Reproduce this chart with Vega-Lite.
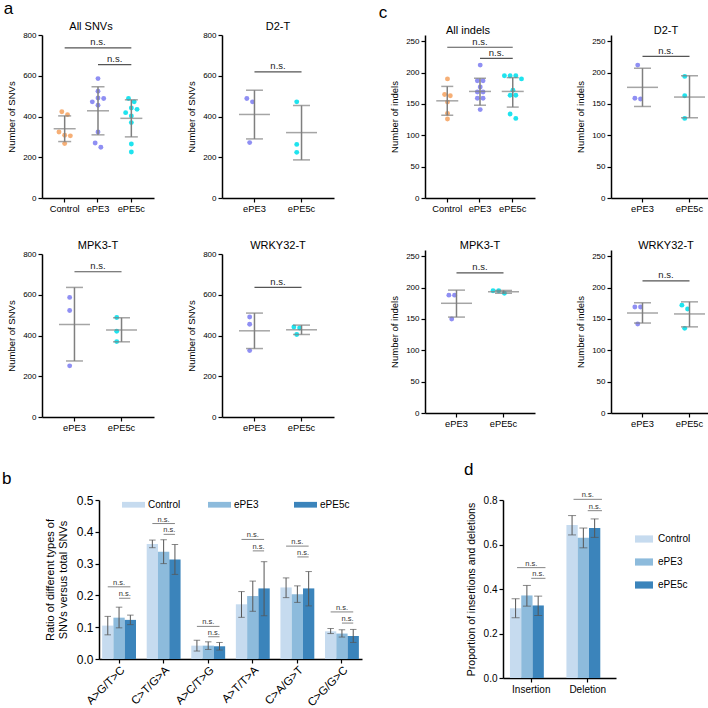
{
  "$schema": "https://vega.github.io/schema/vega-lite/v6.json",
  "background": "white",
  "padding": {"left": 2, "top": 0, "right": 0, "bottom": 0},
  "autosize": {"type": "pad"},
  "config": {
    "font": "Liberation Sans",
    "view": {"stroke": null},
    "title": {"fontSize": 11, "fontWeight": "normal", "color": "#000", "offset": -1},
    "axis": {"domainColor": "#000", "domainWidth": 1.5, "tickColor": "#000", "tickWidth": 1.2, "tickSize": 4, "labelColor": "#000", "titleColor": "#000", "titleFontWeight": "normal", "grid": false, "labelFontSize": 8, "titleFontSize": 9.5, "labelPadding": 2, "titlePadding": 6, "labelOverlap": false},
    "legend": {"labelColor": "#000", "labelFont": "Liberation Sans"}
  },
  "datasets": {
    "dots": [
      {"panel": "snv_all", "group": "Control", "value": 423}, {"panel": "snv_all", "group": "Control", "value": 409}, {"panel": "snv_all", "group": "Control", "value": 324}, {"panel": "snv_all", "group": "Control", "value": 308}, {"panel": "snv_all", "group": "Control", "value": 305}, {"panel": "snv_all", "group": "Control", "value": 267},
      {"panel": "snv_all", "group": "ePE3", "value": 586}, {"panel": "snv_all", "group": "ePE3", "value": 524}, {"panel": "snv_all", "group": "ePE3", "value": 491}, {"panel": "snv_all", "group": "ePE3", "value": 488}, {"panel": "snv_all", "group": "ePE3", "value": 472}, {"panel": "snv_all", "group": "ePE3", "value": 455}, {"panel": "snv_all", "group": "ePE3", "value": 324}, {"panel": "snv_all", "group": "ePE3", "value": 270}, {"panel": "snv_all", "group": "ePE3", "value": 249},
      {"panel": "snv_all", "group": "ePE5c", "value": 488}, {"panel": "snv_all", "group": "ePE5c", "value": 472}, {"panel": "snv_all", "group": "ePE5c", "value": 442}, {"panel": "snv_all", "group": "ePE5c", "value": 435}, {"panel": "snv_all", "group": "ePE5c", "value": 419}, {"panel": "snv_all", "group": "ePE5c", "value": 403}, {"panel": "snv_all", "group": "ePE5c", "value": 370}, {"panel": "snv_all", "group": "ePE5c", "value": 265}, {"panel": "snv_all", "group": "ePE5c", "value": 226},
      {"panel": "snv_d2", "group": "ePE3", "value": 488}, {"panel": "snv_d2", "group": "ePE3", "value": 472}, {"panel": "snv_d2", "group": "ePE3", "value": 272},
      {"panel": "snv_d2", "group": "ePE5c", "value": 472}, {"panel": "snv_d2", "group": "ePE5c", "value": 263}, {"panel": "snv_d2", "group": "ePE5c", "value": 224},
      {"panel": "snv_mpk3", "group": "ePE3", "value": 587}, {"panel": "snv_mpk3", "group": "ePE3", "value": 523}, {"panel": "snv_mpk3", "group": "ePE3", "value": 251},
      {"panel": "snv_mpk3", "group": "ePE5c", "value": 488}, {"panel": "snv_mpk3", "group": "ePE5c", "value": 421}, {"panel": "snv_mpk3", "group": "ePE5c", "value": 370},
      {"panel": "snv_wrky32", "group": "ePE3", "value": 491}, {"panel": "snv_wrky32", "group": "ePE3", "value": 455}, {"panel": "snv_wrky32", "group": "ePE3", "value": 326},
      {"panel": "snv_wrky32", "group": "ePE5c", "value": 442}, {"panel": "snv_wrky32", "group": "ePE5c", "value": 437}, {"panel": "snv_wrky32", "group": "ePE5c", "value": 405},
      {"panel": "ind_all", "group": "Control", "value": 190}, {"panel": "ind_all", "group": "Control", "value": 165}, {"panel": "ind_all", "group": "Control", "value": 163}, {"panel": "ind_all", "group": "Control", "value": 153}, {"panel": "ind_all", "group": "Control", "value": 135}, {"panel": "ind_all", "group": "Control", "value": 126},
      {"panel": "ind_all", "group": "ePE3", "value": 212}, {"panel": "ind_all", "group": "ePE3", "value": 187}, {"panel": "ind_all", "group": "ePE3", "value": 187}, {"panel": "ind_all", "group": "ePE3", "value": 177}, {"panel": "ind_all", "group": "ePE3", "value": 169}, {"panel": "ind_all", "group": "ePE3", "value": 169}, {"panel": "ind_all", "group": "ePE3", "value": 159}, {"panel": "ind_all", "group": "ePE3", "value": 159}, {"panel": "ind_all", "group": "ePE3", "value": 141},
      {"panel": "ind_all", "group": "ePE5c", "value": 195}, {"panel": "ind_all", "group": "ePE5c", "value": 195}, {"panel": "ind_all", "group": "ePE5c", "value": 195}, {"panel": "ind_all", "group": "ePE5c", "value": 190}, {"panel": "ind_all", "group": "ePE5c", "value": 172}, {"panel": "ind_all", "group": "ePE5c", "value": 164}, {"panel": "ind_all", "group": "ePE5c", "value": 164}, {"panel": "ind_all", "group": "ePE5c", "value": 134}, {"panel": "ind_all", "group": "ePE5c", "value": 127},
      {"panel": "ind_d2", "group": "ePE3", "value": 212}, {"panel": "ind_d2", "group": "ePE3", "value": 159}, {"panel": "ind_d2", "group": "ePE3", "value": 158},
      {"panel": "ind_d2", "group": "ePE5c", "value": 194}, {"panel": "ind_d2", "group": "ePE5c", "value": 163}, {"panel": "ind_d2", "group": "ePE5c", "value": 127},
      {"panel": "ind_mpk3", "group": "ePE3", "value": 188}, {"panel": "ind_mpk3", "group": "ePE3", "value": 188}, {"panel": "ind_mpk3", "group": "ePE3", "value": 150},
      {"panel": "ind_mpk3", "group": "ePE5c", "value": 195}, {"panel": "ind_mpk3", "group": "ePE5c", "value": 195}, {"panel": "ind_mpk3", "group": "ePE5c", "value": 191},
      {"panel": "ind_wrky32", "group": "ePE3", "value": 169}, {"panel": "ind_wrky32", "group": "ePE3", "value": 169}, {"panel": "ind_wrky32", "group": "ePE3", "value": 142},
      {"panel": "ind_wrky32", "group": "ePE5c", "value": 172}, {"panel": "ind_wrky32", "group": "ePE5c", "value": 166}, {"panel": "ind_wrky32", "group": "ePE5c", "value": 135}
    ],
    "stats": [
      {"panel": "snv_all", "group": "Control", "mean": 340, "lo": 277, "hi": 403},
      {"panel": "snv_all", "group": "ePE3", "mean": 428, "lo": 310, "hi": 546},
      {"panel": "snv_all", "group": "ePE5c", "mean": 391, "lo": 300, "hi": 482},
      {"panel": "snv_d2", "group": "ePE3", "mean": 410, "lo": 290, "hi": 529},
      {"panel": "snv_d2", "group": "ePE5c", "mean": 321, "lo": 187, "hi": 454},
      {"panel": "snv_mpk3", "group": "ePE3", "mean": 454, "lo": 275, "hi": 636},
      {"panel": "snv_mpk3", "group": "ePE5c", "mean": 427, "lo": 369, "hi": 487},
      {"panel": "snv_wrky32", "group": "ePE3", "mean": 423, "lo": 336, "hi": 510},
      {"panel": "snv_wrky32", "group": "ePE5c", "mean": 428, "lo": 405, "hi": 451},
      {"panel": "ind_all", "group": "Control", "mean": 155, "lo": 132, "hi": 178},
      {"panel": "ind_all", "group": "ePE3", "mean": 170, "lo": 148, "hi": 191},
      {"panel": "ind_all", "group": "ePE5c", "mean": 170, "lo": 145, "hi": 192},
      {"panel": "ind_d2", "group": "ePE3", "mean": 176.5, "lo": 146, "hi": 207},
      {"panel": "ind_d2", "group": "ePE5c", "mean": 161, "lo": 128, "hi": 195},
      {"panel": "ind_mpk3", "group": "ePE3", "mean": 175, "lo": 153, "hi": 196},
      {"panel": "ind_mpk3", "group": "ePE5c", "mean": 193.4, "lo": 191, "hi": 195.5},
      {"panel": "ind_wrky32", "group": "ePE3", "mean": 159.5, "lo": 143.5, "hi": 175.8},
      {"panel": "ind_wrky32", "group": "ePE5c", "mean": 158, "lo": 137.4, "hi": 177.3}
    ],
    "sig": [
      {"panel": "snv_all", "from": "Control", "to": "ePE5c", "y": 737},
      {"panel": "snv_all", "from": "ePE3", "to": "ePE5c", "y": 655},
      {"panel": "snv_d2", "from": "ePE3", "to": "ePE5c", "y": 619},
      {"panel": "snv_mpk3", "from": "ePE3", "to": "ePE5c", "y": 713},
      {"panel": "snv_wrky32", "from": "ePE3", "to": "ePE5c", "y": 636},
      {"panel": "ind_all", "from": "Control", "to": "ePE5c", "y": 240.5},
      {"panel": "ind_all", "from": "ePE3", "to": "ePE5c", "y": 222.7},
      {"panel": "ind_d2", "from": "ePE3", "to": "ePE5c", "y": 226},
      {"panel": "ind_mpk3", "from": "ePE3", "to": "ePE5c", "y": 223.5},
      {"panel": "ind_wrky32", "from": "ePE3", "to": "ePE5c", "y": 210.7}
    ],
    "mut": [
      {"type": "A>G/T>C", "group": "Control", "mean": 0.105, "lo": 0.076, "hi": 0.134},
      {"type": "A>G/T>C", "group": "ePE3", "mean": 0.13, "lo": 0.098, "hi": 0.163},
      {"type": "A>G/T>C", "group": "ePE5c", "mean": 0.123, "lo": 0.108, "hi": 0.138},
      {"type": "C>T/G>A", "group": "Control", "mean": 0.362, "lo": 0.35, "hi": 0.374},
      {"type": "C>T/G>A", "group": "ePE3", "mean": 0.337, "lo": 0.3, "hi": 0.375},
      {"type": "C>T/G>A", "group": "ePE5c", "mean": 0.313, "lo": 0.266, "hi": 0.36},
      {"type": "A>C/T>G", "group": "Control", "mean": 0.042, "lo": 0.025, "hi": 0.059},
      {"type": "A>C/T>G", "group": "ePE3", "mean": 0.042, "lo": 0.03, "hi": 0.054},
      {"type": "A>C/T>G", "group": "ePE5c", "mean": 0.04, "lo": 0.028, "hi": 0.052},
      {"type": "A>T/T>A", "group": "Control", "mean": 0.172, "lo": 0.131, "hi": 0.212},
      {"type": "A>T/T>A", "group": "ePE3", "mean": 0.198, "lo": 0.15, "hi": 0.245},
      {"type": "A>T/T>A", "group": "ePE5c", "mean": 0.222, "lo": 0.136, "hi": 0.306},
      {"type": "C>A/G>T", "group": "Control", "mean": 0.225, "lo": 0.193, "hi": 0.255},
      {"type": "C>A/G>T", "group": "ePE3", "mean": 0.204, "lo": 0.178, "hi": 0.23},
      {"type": "C>A/G>T", "group": "ePE5c", "mean": 0.222, "lo": 0.167, "hi": 0.275},
      {"type": "C>G/G>C", "group": "Control", "mean": 0.087, "lo": 0.08, "hi": 0.096},
      {"type": "C>G/G>C", "group": "ePE3", "mean": 0.08, "lo": 0.069, "hi": 0.092},
      {"type": "C>G/G>C", "group": "ePE5c", "mean": 0.072, "lo": 0.052, "hi": 0.093}
    ],
    "mutsig": [
      {"type": "A>G/T>C", "span": "wide", "y": 0.227}, {"type": "A>G/T>C", "span": "narrow", "y": 0.191},
      {"type": "C>T/G>A", "span": "wide", "y": 0.426}, {"type": "C>T/G>A", "span": "narrow", "y": 0.392},
      {"type": "A>C/T>G", "span": "wide", "y": 0.1025}, {"type": "A>C/T>G", "span": "narrow", "y": 0.07},
      {"type": "A>T/T>A", "span": "wide", "y": 0.376}, {"type": "A>T/T>A", "span": "narrow", "y": 0.34},
      {"type": "C>A/G>T", "span": "wide", "y": 0.355}, {"type": "C>A/G>T", "span": "narrow", "y": 0.321},
      {"type": "C>G/G>C", "span": "wide", "y": 0.148}, {"type": "C>G/G>C", "span": "narrow", "y": 0.113}
    ],
    "indelprop": [
      {"type": "Insertion", "group": "Control", "mean": 0.314, "lo": 0.271, "hi": 0.356},
      {"type": "Insertion", "group": "ePE3", "mean": 0.371, "lo": 0.323, "hi": 0.416},
      {"type": "Insertion", "group": "ePE5c", "mean": 0.326, "lo": 0.281, "hi": 0.368},
      {"type": "Deletion", "group": "Control", "mean": 0.688, "lo": 0.643, "hi": 0.73},
      {"type": "Deletion", "group": "ePE3", "mean": 0.63, "lo": 0.585, "hi": 0.674},
      {"type": "Deletion", "group": "ePE5c", "mean": 0.674, "lo": 0.632, "hi": 0.715}
    ],
    "indelsig": [
      {"type": "Insertion", "span": "wide", "y": 0.496}, {"type": "Insertion", "span": "narrow", "y": 0.448},
      {"type": "Deletion", "span": "wide", "y": 0.803}, {"type": "Deletion", "span": "narrow", "y": 0.752}
    ]
  },
  "resolve": {"scale": {"color": "independent"}, "legend": {"color": "independent"}},
  "spacing": 28,
  "vconcat": [
    {
      "data": {"name": "dots"},
      "transform": [
        {"calculate": "datum.value / (indexof(datum.panel, 'snv') == 0 ? 800 : 250)", "as": "nv"},
        {"window": [{"op": "lag", "field": "nv", "as": "prev"}], "groupby": ["panel", "group"], "sort": [{"field": "nv", "order": "descending"}]},
        {"calculate": "(datum.prev == null || datum.prev - datum.nv > 0.0285) ? 1 : 0", "as": "brk"},
        {"window": [{"op": "sum", "field": "brk", "as": "cid"}], "groupby": ["panel", "group"], "sort": [{"field": "nv", "order": "descending"}], "frame": [null, 0]},
        {"window": [{"op": "row_number", "as": "k"}], "groupby": ["panel", "group", "cid"], "sort": [{"field": "nv", "order": "descending"}]},
        {"joinaggregate": [{"op": "count", "as": "m"}, {"op": "max", "field": "nv", "as": "top"}, {"op": "min", "field": "nv", "as": "bot"}], "groupby": ["panel", "group", "cid"]},
        {"calculate": "(datum.m <= 3 || datum.top - datum.bot <= 0.043) ? datum.k - (datum.m + 1) / 2 : ((datum.k - 1) % 3 == 0 ? 0 : ((datum.k - 1) % 3 == 1 ? 1 : -1))", "as": "lane"}
      ],
      "spacing": 44,
      "hconcat": [
        {
          "title": {"text": "a", "anchor": "start", "frame": "bounds", "fontSize": 17, "dx": -3, "offset": 3},
          "spacing": 26,
          "vconcat": [
            {
              "spacing": 32,
              "hconcat": [
                {
                  "width": 112, "height": 163,
                  "title": {"text": "All SNVs", "dx": -7},
                  "encoding": {"x": {"field": "group", "type": "nominal", "scale": {"type": "band", "domain": ["Control", "ePE3", "ePE5c"], "paddingInner": 0.3, "paddingOuter": 0.33}, "axis": {"title": null, "labelAngle": 0, "labelFontSize": 9.3}}},
                  "layer": [
                    {"transform": [{"filter": "datum.panel == 'snv_all'"}], "mark": {"type": "circle", "size": 24, "opacity": 1},
                     "encoding": {"xOffset": {"field": "lane", "type": "quantitative", "scale": {"domain": [-1.45, 1.45], "nice": false, "zero": false}},
                       "y": {"field": "value", "type": "quantitative", "scale": {"domain": [0, 800]}, "axis": {"values": [0, 200, 400, 600, 800], "tickCount": 5, "title": "Number of SNVs"}},
                       "color": {"field": "group", "type": "nominal", "scale": {"domain": ["Control", "ePE3", "ePE5c"], "range": ["#F6AF76", "#8F8FF3", "#1FE3EE"]}, "legend": null}}},
                    {"data": {"name": "stats"}, "transform": [{"filter": "datum.panel == 'snv_all'"}], "layer": [
                      {"mark": {"type": "rule", "color": "#7f7f7f", "strokeWidth": 1.5}, "encoding": {"y": {"field": "lo", "type": "quantitative"}, "y2": {"field": "hi"}}},
                      {"transform": [{"fold": ["lo", "hi"]}], "mark": {"type": "tick", "color": "#7f7f7f", "thickness": 1.5, "size": 13}, "encoding": {"y": {"field": "value", "type": "quantitative"}}},
                      {"mark": {"type": "tick", "color": "#7f7f7f", "thickness": 1.5, "size": 22}, "encoding": {"y": {"field": "mean", "type": "quantitative"}}}]},
                    {"data": {"name": "sig"}, "transform": [{"filter": "datum.panel == 'snv_all'"}], "layer": [
                      {"mark": {"type": "rule", "color": "#555555", "strokeWidth": 1.2}, "encoding": {"x": {"field": "from", "type": "nominal", "bandPosition": 0.5}, "x2": {"field": "to", "bandPosition": 0.5}, "y": {"field": "y", "type": "quantitative"}}},
                      {"transform": [{"filter": "datum.from == 'Control'"}], "mark": {"type": "text", "text": "n.s.", "fontSize": 9.5, "baseline": "alphabetic", "dy": -2.5, "color": "#222"}, "encoding": {"x": {"field": "to", "type": "nominal", "bandPosition": -0.9286}, "y": {"field": "y", "type": "quantitative"}}},
                      {"transform": [{"filter": "datum.from != 'Control'"}], "mark": {"type": "text", "text": "n.s.", "fontSize": 9.5, "baseline": "alphabetic", "dy": -2.5, "color": "#222"}, "encoding": {"x": {"field": "to", "type": "nominal", "bandPosition": -0.2143}, "y": {"field": "y", "type": "quantitative"}}}]}
                  ]
                },
                {
                  "width": 112, "height": 163,
                  "title": {"text": "D2-T"},
                  "encoding": {"x": {"field": "group", "type": "nominal", "scale": {"type": "band", "domain": ["ePE3", "ePE5c"], "paddingInner": 0.3, "paddingOuter": 0.34}, "axis": {"title": null, "labelAngle": 0, "labelFontSize": 9.3}}},
                  "layer": [
                    {"transform": [{"filter": "datum.panel == 'snv_d2'"}], "mark": {"type": "circle", "size": 24, "opacity": 1},
                     "encoding": {"xOffset": {"field": "lane", "type": "quantitative", "scale": {"domain": [-2.05, 2.05], "nice": false, "zero": false}},
                       "y": {"field": "value", "type": "quantitative", "scale": {"domain": [0, 800]}, "axis": {"values": [0, 200, 400, 600, 800], "tickCount": 5, "title": "Number of SNVs"}},
                       "color": {"field": "group", "type": "nominal", "scale": {"domain": ["Control", "ePE3", "ePE5c"], "range": ["#F6AF76", "#8F8FF3", "#1FE3EE"]}, "legend": null}}},
                    {"data": {"name": "stats"}, "transform": [{"filter": "datum.panel == 'snv_d2'"}], "layer": [
                      {"mark": {"type": "rule", "color": "#7f7f7f", "strokeWidth": 1.5}, "encoding": {"y": {"field": "lo", "type": "quantitative"}, "y2": {"field": "hi"}}},
                      {"transform": [{"fold": ["lo", "hi"]}], "mark": {"type": "tick", "color": "#7f7f7f", "thickness": 1.5, "size": 17}, "encoding": {"y": {"field": "value", "type": "quantitative"}}},
                      {"mark": {"type": "tick", "color": "#7f7f7f", "thickness": 1.5, "size": 31}, "encoding": {"y": {"field": "mean", "type": "quantitative"}}}]},
                    {"data": {"name": "sig"}, "transform": [{"filter": "datum.panel == 'snv_d2'"}], "layer": [
                      {"mark": {"type": "rule", "color": "#555555", "strokeWidth": 1.2}, "encoding": {"x": {"field": "from", "type": "nominal", "bandPosition": 0.5}, "x2": {"field": "to", "bandPosition": 0.5}, "y": {"field": "y", "type": "quantitative"}}},
                      {"mark": {"type": "text", "text": "n.s.", "fontSize": 9.5, "baseline": "alphabetic", "dy": -2.5, "color": "#222"}, "encoding": {"x": {"field": "to", "type": "nominal", "bandPosition": -0.2143}, "y": {"field": "y", "type": "quantitative"}}}]}
                  ]
                }
              ]
            },
            {
              "spacing": 32,
              "hconcat": [
                {
                  "width": 112, "height": 163,
                  "title": {"text": "MPK3-T"},
                  "encoding": {"x": {"field": "group", "type": "nominal", "scale": {"type": "band", "domain": ["ePE3", "ePE5c"], "paddingInner": 0.3, "paddingOuter": 0.34}, "axis": {"title": null, "labelAngle": 0, "labelFontSize": 9.3}}},
                  "layer": [
                    {"transform": [{"filter": "datum.panel == 'snv_mpk3'"}], "mark": {"type": "circle", "size": 24, "opacity": 1},
                     "encoding": {"xOffset": {"field": "lane", "type": "quantitative", "scale": {"domain": [-2.05, 2.05], "nice": false, "zero": false}},
                       "y": {"field": "value", "type": "quantitative", "scale": {"domain": [0, 800]}, "axis": {"values": [0, 200, 400, 600, 800], "tickCount": 5, "title": "Number of SNVs"}},
                       "color": {"field": "group", "type": "nominal", "scale": {"domain": ["Control", "ePE3", "ePE5c"], "range": ["#F6AF76", "#8F8FF3", "#1FE3EE"]}, "legend": null}}},
                    {"data": {"name": "stats"}, "transform": [{"filter": "datum.panel == 'snv_mpk3'"}], "layer": [
                      {"mark": {"type": "rule", "color": "#7f7f7f", "strokeWidth": 1.5}, "encoding": {"y": {"field": "lo", "type": "quantitative"}, "y2": {"field": "hi"}}},
                      {"transform": [{"fold": ["lo", "hi"]}], "mark": {"type": "tick", "color": "#7f7f7f", "thickness": 1.5, "size": 17}, "encoding": {"y": {"field": "value", "type": "quantitative"}}},
                      {"mark": {"type": "tick", "color": "#7f7f7f", "thickness": 1.5, "size": 31}, "encoding": {"y": {"field": "mean", "type": "quantitative"}}}]},
                    {"data": {"name": "sig"}, "transform": [{"filter": "datum.panel == 'snv_mpk3'"}], "layer": [
                      {"mark": {"type": "rule", "color": "#555555", "strokeWidth": 1.2}, "encoding": {"x": {"field": "from", "type": "nominal", "bandPosition": 0.5}, "x2": {"field": "to", "bandPosition": 0.5}, "y": {"field": "y", "type": "quantitative"}}},
                      {"mark": {"type": "text", "text": "n.s.", "fontSize": 9.5, "baseline": "alphabetic", "dy": -2.5, "color": "#222"}, "encoding": {"x": {"field": "to", "type": "nominal", "bandPosition": -0.2143}, "y": {"field": "y", "type": "quantitative"}}}]}
                  ]
                },
                {
                  "width": 112, "height": 163,
                  "title": {"text": "WRKY32-T"},
                  "encoding": {"x": {"field": "group", "type": "nominal", "scale": {"type": "band", "domain": ["ePE3", "ePE5c"], "paddingInner": 0.3, "paddingOuter": 0.34}, "axis": {"title": null, "labelAngle": 0, "labelFontSize": 9.3}}},
                  "layer": [
                    {"transform": [{"filter": "datum.panel == 'snv_wrky32'"}], "mark": {"type": "circle", "size": 24, "opacity": 1},
                     "encoding": {"xOffset": {"field": "lane", "type": "quantitative", "scale": {"domain": [-2.05, 2.05], "nice": false, "zero": false}},
                       "y": {"field": "value", "type": "quantitative", "scale": {"domain": [0, 800]}, "axis": {"values": [0, 200, 400, 600, 800], "tickCount": 5, "title": "Number of SNVs"}},
                       "color": {"field": "group", "type": "nominal", "scale": {"domain": ["Control", "ePE3", "ePE5c"], "range": ["#F6AF76", "#8F8FF3", "#1FE3EE"]}, "legend": null}}},
                    {"data": {"name": "stats"}, "transform": [{"filter": "datum.panel == 'snv_wrky32'"}], "layer": [
                      {"mark": {"type": "rule", "color": "#7f7f7f", "strokeWidth": 1.5}, "encoding": {"y": {"field": "lo", "type": "quantitative"}, "y2": {"field": "hi"}}},
                      {"transform": [{"fold": ["lo", "hi"]}], "mark": {"type": "tick", "color": "#7f7f7f", "thickness": 1.5, "size": 17}, "encoding": {"y": {"field": "value", "type": "quantitative"}}},
                      {"mark": {"type": "tick", "color": "#7f7f7f", "thickness": 1.5, "size": 31}, "encoding": {"y": {"field": "mean", "type": "quantitative"}}}]},
                    {"data": {"name": "sig"}, "transform": [{"filter": "datum.panel == 'snv_wrky32'"}], "layer": [
                      {"mark": {"type": "rule", "color": "#555555", "strokeWidth": 1.2}, "encoding": {"x": {"field": "from", "type": "nominal", "bandPosition": 0.5}, "x2": {"field": "to", "bandPosition": 0.5}, "y": {"field": "y", "type": "quantitative"}}},
                      {"mark": {"type": "text", "text": "n.s.", "fontSize": 9.5, "baseline": "alphabetic", "dy": -2.5, "color": "#222"}, "encoding": {"x": {"field": "to", "type": "nominal", "bandPosition": -0.2143}, "y": {"field": "y", "type": "quantitative"}}}]}
                  ]
                }
              ]
            }
          ]
        },
        {
          "title": {"text": "c", "anchor": "start", "frame": "bounds", "fontSize": 17, "dx": -11, "offset": 3},
          "spacing": 26,
          "vconcat": [
            {
              "spacing": 40,
              "hconcat": [
                {
                  "width": 110, "height": 163,
                  "title": {"text": "All indels", "dx": -12},
                  "encoding": {"x": {"field": "group", "type": "nominal", "scale": {"type": "band", "domain": ["Control", "ePE3", "ePE5c"], "paddingInner": 0.3, "paddingOuter": 0.33}, "axis": {"title": null, "labelAngle": 0, "labelFontSize": 9.3}}},
                  "layer": [
                    {"transform": [{"filter": "datum.panel == 'ind_all'"}], "mark": {"type": "circle", "size": 24, "opacity": 1},
                     "encoding": {"xOffset": {"field": "lane", "type": "quantitative", "scale": {"domain": [-1.45, 1.45], "nice": false, "zero": false}},
                       "y": {"field": "value", "type": "quantitative", "scale": {"domain": [0, 250]}, "axis": {"values": [0, 50, 100, 150, 200, 250], "tickCount": 6, "title": "Number of indels"}},
                       "color": {"field": "group", "type": "nominal", "scale": {"domain": ["Control", "ePE3", "ePE5c"], "range": ["#F6AF76", "#8F8FF3", "#1FE3EE"]}, "legend": null}}},
                    {"data": {"name": "stats"}, "transform": [{"filter": "datum.panel == 'ind_all'"}], "layer": [
                      {"mark": {"type": "rule", "color": "#7f7f7f", "strokeWidth": 1.5}, "encoding": {"y": {"field": "lo", "type": "quantitative"}, "y2": {"field": "hi"}}},
                      {"transform": [{"fold": ["lo", "hi"]}], "mark": {"type": "tick", "color": "#7f7f7f", "thickness": 1.5, "size": 12}, "encoding": {"y": {"field": "value", "type": "quantitative"}}},
                      {"mark": {"type": "tick", "color": "#7f7f7f", "thickness": 1.5, "size": 22}, "encoding": {"y": {"field": "mean", "type": "quantitative"}}}]},
                    {"data": {"name": "sig"}, "transform": [{"filter": "datum.panel == 'ind_all'"}], "layer": [
                      {"mark": {"type": "rule", "color": "#555555", "strokeWidth": 1.2}, "encoding": {"x": {"field": "from", "type": "nominal", "bandPosition": 0.5}, "x2": {"field": "to", "bandPosition": 0.5}, "y": {"field": "y", "type": "quantitative"}}},
                      {"transform": [{"filter": "datum.from == 'Control'"}], "mark": {"type": "text", "text": "n.s.", "fontSize": 9.5, "baseline": "alphabetic", "dy": -2.5, "color": "#222"}, "encoding": {"x": {"field": "to", "type": "nominal", "bandPosition": -0.9286}, "y": {"field": "y", "type": "quantitative"}}},
                      {"transform": [{"filter": "datum.from != 'Control'"}], "mark": {"type": "text", "text": "n.s.", "fontSize": 9.5, "baseline": "alphabetic", "dy": -2.5, "color": "#222"}, "encoding": {"x": {"field": "to", "type": "nominal", "bandPosition": -0.2143}, "y": {"field": "y", "type": "quantitative"}}}]}
                  ]
                },
                {
                  "width": 110, "height": 163,
                  "title": {"text": "D2-T"},
                  "encoding": {"x": {"field": "group", "type": "nominal", "scale": {"type": "band", "domain": ["ePE3", "ePE5c"], "paddingInner": 0.3, "paddingOuter": 0.32}, "axis": {"title": null, "labelAngle": 0, "labelFontSize": 9.3}}},
                  "layer": [
                    {"transform": [{"filter": "datum.panel == 'ind_d2'"}], "mark": {"type": "circle", "size": 24, "opacity": 1},
                     "encoding": {"xOffset": {"field": "lane", "type": "quantitative", "scale": {"domain": [-2.05, 2.05], "nice": false, "zero": false}},
                       "y": {"field": "value", "type": "quantitative", "scale": {"domain": [0, 250]}, "axis": {"values": [0, 50, 100, 150, 200, 250], "tickCount": 6, "title": "Number of indels"}},
                       "color": {"field": "group", "type": "nominal", "scale": {"domain": ["Control", "ePE3", "ePE5c"], "range": ["#F6AF76", "#8F8FF3", "#1FE3EE"]}, "legend": null}}},
                    {"data": {"name": "stats"}, "transform": [{"filter": "datum.panel == 'ind_d2'"}], "layer": [
                      {"mark": {"type": "rule", "color": "#7f7f7f", "strokeWidth": 1.5}, "encoding": {"y": {"field": "lo", "type": "quantitative"}, "y2": {"field": "hi"}}},
                      {"transform": [{"fold": ["lo", "hi"]}], "mark": {"type": "tick", "color": "#7f7f7f", "thickness": 1.5, "size": 17}, "encoding": {"y": {"field": "value", "type": "quantitative"}}},
                      {"mark": {"type": "tick", "color": "#7f7f7f", "thickness": 1.5, "size": 31}, "encoding": {"y": {"field": "mean", "type": "quantitative"}}}]},
                    {"data": {"name": "sig"}, "transform": [{"filter": "datum.panel == 'ind_d2'"}], "layer": [
                      {"mark": {"type": "rule", "color": "#555555", "strokeWidth": 1.2}, "encoding": {"x": {"field": "from", "type": "nominal", "bandPosition": 0.5}, "x2": {"field": "to", "bandPosition": 0.5}, "y": {"field": "y", "type": "quantitative"}}},
                      {"mark": {"type": "text", "text": "n.s.", "fontSize": 9.5, "baseline": "alphabetic", "dy": -2.5, "color": "#222"}, "encoding": {"x": {"field": "to", "type": "nominal", "bandPosition": -0.2143}, "y": {"field": "y", "type": "quantitative"}}}]}
                  ]
                }
              ]
            },
            {
              "spacing": 40,
              "hconcat": [
                {
                  "width": 110, "height": 163,
                  "title": {"text": "MPK3-T"},
                  "encoding": {"x": {"field": "group", "type": "nominal", "scale": {"type": "band", "domain": ["ePE3", "ePE5c"], "paddingInner": 0.3, "paddingOuter": 0.32}, "axis": {"title": null, "labelAngle": 0, "labelFontSize": 9.3}}},
                  "layer": [
                    {"transform": [{"filter": "datum.panel == 'ind_mpk3'"}], "mark": {"type": "circle", "size": 24, "opacity": 1},
                     "encoding": {"xOffset": {"field": "lane", "type": "quantitative", "scale": {"domain": [-2.05, 2.05], "nice": false, "zero": false}},
                       "y": {"field": "value", "type": "quantitative", "scale": {"domain": [0, 250]}, "axis": {"values": [0, 50, 100, 150, 200, 250], "tickCount": 6, "title": "Number of indels"}},
                       "color": {"field": "group", "type": "nominal", "scale": {"domain": ["Control", "ePE3", "ePE5c"], "range": ["#F6AF76", "#8F8FF3", "#1FE3EE"]}, "legend": null}}},
                    {"data": {"name": "stats"}, "transform": [{"filter": "datum.panel == 'ind_mpk3'"}], "layer": [
                      {"mark": {"type": "rule", "color": "#7f7f7f", "strokeWidth": 1.5}, "encoding": {"y": {"field": "lo", "type": "quantitative"}, "y2": {"field": "hi"}}},
                      {"transform": [{"fold": ["lo", "hi"]}], "mark": {"type": "tick", "color": "#7f7f7f", "thickness": 1.5, "size": 17}, "encoding": {"y": {"field": "value", "type": "quantitative"}}},
                      {"mark": {"type": "tick", "color": "#7f7f7f", "thickness": 1.5, "size": 31}, "encoding": {"y": {"field": "mean", "type": "quantitative"}}}]},
                    {"data": {"name": "sig"}, "transform": [{"filter": "datum.panel == 'ind_mpk3'"}], "layer": [
                      {"mark": {"type": "rule", "color": "#555555", "strokeWidth": 1.2}, "encoding": {"x": {"field": "from", "type": "nominal", "bandPosition": 0.5}, "x2": {"field": "to", "bandPosition": 0.5}, "y": {"field": "y", "type": "quantitative"}}},
                      {"mark": {"type": "text", "text": "n.s.", "fontSize": 9.5, "baseline": "alphabetic", "dy": -2.5, "color": "#222"}, "encoding": {"x": {"field": "to", "type": "nominal", "bandPosition": -0.2143}, "y": {"field": "y", "type": "quantitative"}}}]}
                  ]
                },
                {
                  "width": 110, "height": 163,
                  "title": {"text": "WRKY32-T"},
                  "encoding": {"x": {"field": "group", "type": "nominal", "scale": {"type": "band", "domain": ["ePE3", "ePE5c"], "paddingInner": 0.3, "paddingOuter": 0.32}, "axis": {"title": null, "labelAngle": 0, "labelFontSize": 9.3}}},
                  "layer": [
                    {"transform": [{"filter": "datum.panel == 'ind_wrky32'"}], "mark": {"type": "circle", "size": 24, "opacity": 1},
                     "encoding": {"xOffset": {"field": "lane", "type": "quantitative", "scale": {"domain": [-2.05, 2.05], "nice": false, "zero": false}},
                       "y": {"field": "value", "type": "quantitative", "scale": {"domain": [0, 250]}, "axis": {"values": [0, 50, 100, 150, 200, 250], "tickCount": 6, "title": "Number of indels"}},
                       "color": {"field": "group", "type": "nominal", "scale": {"domain": ["Control", "ePE3", "ePE5c"], "range": ["#F6AF76", "#8F8FF3", "#1FE3EE"]}, "legend": null}}},
                    {"data": {"name": "stats"}, "transform": [{"filter": "datum.panel == 'ind_wrky32'"}], "layer": [
                      {"mark": {"type": "rule", "color": "#7f7f7f", "strokeWidth": 1.5}, "encoding": {"y": {"field": "lo", "type": "quantitative"}, "y2": {"field": "hi"}}},
                      {"transform": [{"fold": ["lo", "hi"]}], "mark": {"type": "tick", "color": "#7f7f7f", "thickness": 1.5, "size": 17}, "encoding": {"y": {"field": "value", "type": "quantitative"}}},
                      {"mark": {"type": "tick", "color": "#7f7f7f", "thickness": 1.5, "size": 31}, "encoding": {"y": {"field": "mean", "type": "quantitative"}}}]},
                    {"data": {"name": "sig"}, "transform": [{"filter": "datum.panel == 'ind_wrky32'"}], "layer": [
                      {"mark": {"type": "rule", "color": "#555555", "strokeWidth": 1.2}, "encoding": {"x": {"field": "from", "type": "nominal", "bandPosition": 0.5}, "x2": {"field": "to", "bandPosition": 0.5}, "y": {"field": "y", "type": "quantitative"}}},
                      {"mark": {"type": "text", "text": "n.s.", "fontSize": 9.5, "baseline": "alphabetic", "dy": -2.5, "color": "#222"}, "encoding": {"x": {"field": "to", "type": "nominal", "bandPosition": -0.2143}, "y": {"field": "y", "type": "quantitative"}}}]}
                  ]
                }
              ]
            }
          ]
        }
      ]
    },
    {
      "spacing": 1,
      "resolve": {"scale": {"color": "independent"}, "legend": {"color": "independent"}},
      "hconcat": [
        {
          "title": {"text": "b", "anchor": "start", "frame": "bounds", "fontSize": 17, "dx": -40, "offset": 12},
          "width": 1, "height": 159,
          "data": {"values": [{}]},
          "mark": {"type": "point", "opacity": 0, "size": 1},
          "encoding": {}
        },
        {
          "spacing": 102,
          "resolve": {"scale": {"color": "independent"}, "legend": {"color": "independent"}},
          "hconcat": [
            {
              "width": 263, "height": 159,
              "data": {"name": "mut"},
              "encoding": {"x": {"field": "type", "type": "nominal", "scale": {"type": "band", "domain": ["A>G/T>C", "C>T/G>A", "A>C/T>G", "A>T/T>A", "C>A/G>T", "C>G/G>C"], "paddingInner": 0.24, "paddingOuter": 0.07}, "axis": {"title": null, "labelAngle": -45, "labelFontSize": 11.5, "labelPadding": 1}}},
              "layer": [
                {"mark": {"type": "bar"},
                 "encoding": {
                   "xOffset": {"field": "group", "type": "nominal", "scale": {"domain": ["Control", "ePE3", "ePE5c"], "paddingInner": 0, "paddingOuter": 0}},
                   "y": {"field": "mean", "type": "quantitative", "scale": {"domain": [0, 0.5]}, "axis": {"values": [0, 0.1, 0.2, 0.3, 0.4, 0.5], "tickCount": 6, "format": ".1f", "labelFontSize": 12, "title": ["Ratio of different types of", "SNVs  versus total SNVs"], "titleFontSize": 11, "titlePadding": 8}},
                   "color": {"field": "group", "type": "nominal", "scale": {"domain": ["Control", "ePE3", "ePE5c"], "range": ["#c6dbef", "#8dbbdc", "#3b84bb"]},
                     "legend": {"title": null, "orient": "none", "legendX": 23, "legendY": -7, "direction": "horizontal", "columns": 3, "gridAlign": "all", "columnPadding": 27, "symbolType": "M-1,-0.25H1V0.25H-1Z", "symbolSize": 529, "symbolStrokeWidth": 0, "symbolOpacity": 1, "labelFontSize": 10, "labelOffset": 3}}}},
                {"mark": {"type": "rule", "color": "#555555", "strokeWidth": 1},
                 "encoding": {"xOffset": {"field": "group", "type": "nominal", "scale": {"domain": ["Control", "ePE3", "ePE5c"], "paddingInner": 0, "paddingOuter": 0}}, "y": {"field": "lo", "type": "quantitative"}, "y2": {"field": "hi"}}},
                {"transform": [{"fold": ["lo", "hi"]}], "mark": {"type": "tick", "color": "#555555", "thickness": 1, "size": 6.5},
                 "encoding": {"xOffset": {"field": "group", "type": "nominal", "scale": {"domain": ["Control", "ePE3", "ePE5c"], "paddingInner": 0, "paddingOuter": 0}}, "y": {"field": "value", "type": "quantitative"}}},
                {"data": {"name": "mutsig"}, "layer": [
                  {"transform": [{"filter": "datum.span == 'wide'"}], "mark": {"type": "rule", "color": "#666666", "strokeWidth": 0.8}, "encoding": {"x": {"field": "type", "type": "nominal", "bandPosition": 0.1667}, "x2": {"field": "type", "bandPosition": 0.8333}, "y": {"field": "y", "type": "quantitative"}}},
                  {"transform": [{"filter": "datum.span == 'narrow'"}], "mark": {"type": "rule", "color": "#666666", "strokeWidth": 0.8}, "encoding": {"x": {"field": "type", "type": "nominal", "bandPosition": 0.5}, "x2": {"field": "type", "bandPosition": 0.8333}, "y": {"field": "y", "type": "quantitative"}}},
                  {"transform": [{"filter": "datum.span == 'wide'"}], "mark": {"type": "text", "text": "n.s.", "fontSize": 7.5, "baseline": "alphabetic", "dy": -2, "color": "#333"}, "encoding": {"x": {"field": "type", "type": "nominal", "bandPosition": 0.5}, "y": {"field": "y", "type": "quantitative"}}},
                  {"transform": [{"filter": "datum.span == 'narrow'"}], "mark": {"type": "text", "text": "n.s.", "fontSize": 7.5, "baseline": "alphabetic", "dy": -2, "color": "#333"}, "encoding": {"x": {"field": "type", "type": "nominal", "bandPosition": 0.6667}, "y": {"field": "y", "type": "quantitative"}}}]}
              ]
            },
            {
              "title": {"text": "d", "anchor": "start", "frame": "bounds", "fontSize": 17, "dx": -2, "offset": 12},
              "width": 113, "height": 178,
              "data": {"name": "indelprop"},
              "encoding": {"x": {"field": "type", "type": "nominal", "scale": {"type": "band", "domain": ["Insertion", "Deletion"], "paddingInner": 0.245, "paddingOuter": 0.123}, "axis": {"title": null, "labelAngle": 0, "labelFontSize": 10}}},
              "layer": [
                {"mark": {"type": "bar"},
                 "encoding": {
                   "xOffset": {"field": "group", "type": "nominal", "scale": {"domain": ["Control", "ePE3", "ePE5c"], "paddingInner": 0, "paddingOuter": 0}},
                   "y": {"field": "mean", "type": "quantitative", "scale": {"domain": [0, 0.8]}, "axis": {"values": [0, 0.2, 0.4, 0.6, 0.8], "tickCount": 5, "format": ".1f", "labelFontSize": 10, "title": "Proportion of insertions and deletions", "titleFontSize": 10.5, "titlePadding": 7}},
                   "color": {"field": "group", "type": "nominal", "scale": {"domain": ["Control", "ePE3", "ePE5c"], "range": ["#c6dbef", "#8dbbdc", "#3b84bb"]},
                     "legend": {"title": null, "orient": "none", "legendX": 132, "legendY": 30, "direction": "vertical", "symbolType": "M-1,-0.4H1V0.4H-1Z", "symbolSize": 324, "symbolStrokeWidth": 0, "symbolOpacity": 1, "rowPadding": 9, "labelFontSize": 10, "labelOffset": 5}}}},
                {"mark": {"type": "rule", "color": "#555555", "strokeWidth": 1},
                 "encoding": {"xOffset": {"field": "group", "type": "nominal", "scale": {"domain": ["Control", "ePE3", "ePE5c"], "paddingInner": 0, "paddingOuter": 0}}, "y": {"field": "lo", "type": "quantitative"}, "y2": {"field": "hi"}}},
                {"transform": [{"fold": ["lo", "hi"]}], "mark": {"type": "tick", "color": "#555555", "thickness": 1, "size": 8},
                 "encoding": {"xOffset": {"field": "group", "type": "nominal", "scale": {"domain": ["Control", "ePE3", "ePE5c"], "paddingInner": 0, "paddingOuter": 0}}, "y": {"field": "value", "type": "quantitative"}}},
                {"data": {"name": "indelsig"}, "layer": [
                  {"transform": [{"filter": "datum.span == 'wide'"}], "mark": {"type": "rule", "color": "#666666", "strokeWidth": 0.8}, "encoding": {"x": {"field": "type", "type": "nominal", "bandPosition": 0.1667}, "x2": {"field": "type", "bandPosition": 0.8333}, "y": {"field": "y", "type": "quantitative"}}},
                  {"transform": [{"filter": "datum.span == 'narrow'"}], "mark": {"type": "rule", "color": "#666666", "strokeWidth": 0.8}, "encoding": {"x": {"field": "type", "type": "nominal", "bandPosition": 0.5}, "x2": {"field": "type", "bandPosition": 0.8333}, "y": {"field": "y", "type": "quantitative"}}},
                  {"transform": [{"filter": "datum.span == 'wide'"}], "mark": {"type": "text", "text": "n.s.", "fontSize": 7.5, "baseline": "alphabetic", "dy": -2, "color": "#333"}, "encoding": {"x": {"field": "type", "type": "nominal", "bandPosition": 0.5}, "y": {"field": "y", "type": "quantitative"}}},
                  {"transform": [{"filter": "datum.span == 'narrow'"}], "mark": {"type": "text", "text": "n.s.", "fontSize": 7.5, "baseline": "alphabetic", "dy": -2, "color": "#333"}, "encoding": {"x": {"field": "type", "type": "nominal", "bandPosition": 0.6667}, "y": {"field": "y", "type": "quantitative"}}}]}
              ]
            }
          ]
        }
      ]
    }
  ]
}
